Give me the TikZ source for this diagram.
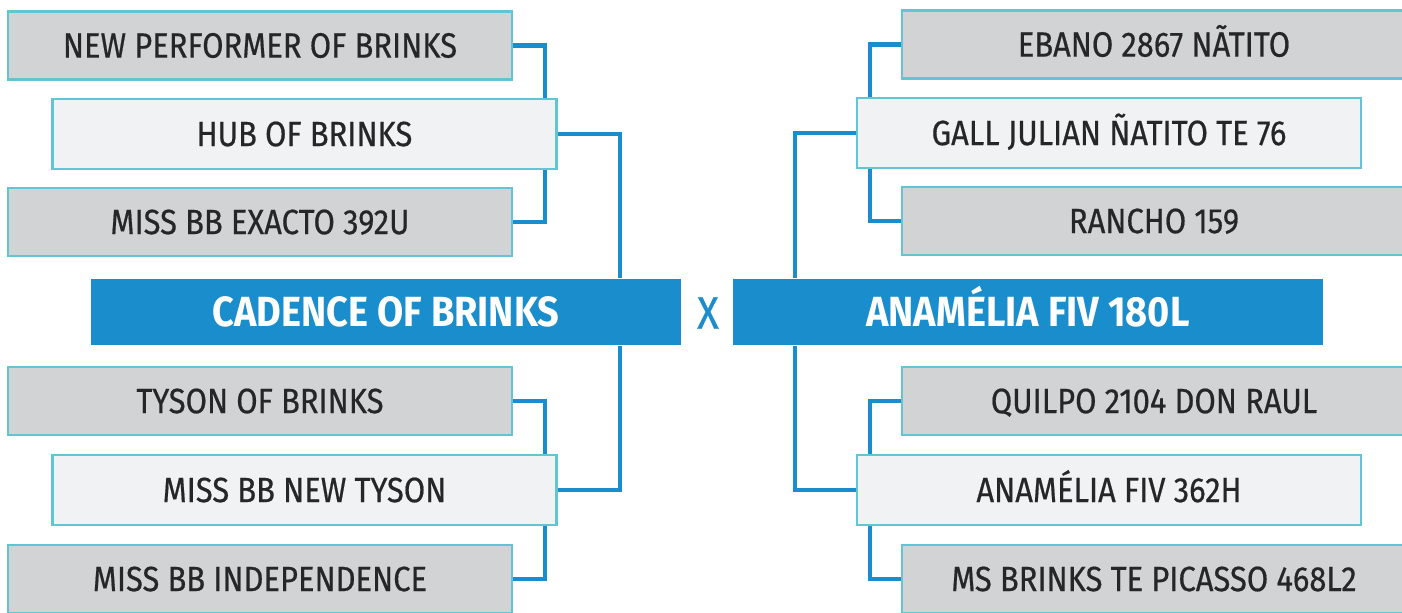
\documentclass[tikz,border=0pt]{standalone}
\usepackage{fontspec}
\setmainfont{Fira Sans}[FakeStretch=0.88,
  UprightFeatures={FakeBold=0.5},BoldFeatures={FakeStretch=0.9}]
\usepackage{tikz}
\usetikzlibrary{positioning}
\definecolor{pedblue}{HTML}{1A8DCC}
\definecolor{pedgrey}{HTML}{D1D3D5}
\definecolor{pedlight}{HTML}{F0F2F4}
\definecolor{pedframe}{HTML}{62C5D3}

\begin{document}
\begin{tikzpicture}[
    x=0.02cm,y=-0.02cm,
    font=\fontsize{20}{23}\selectfont,
    grand/.style={draw=pedframe,line width=1.3pt,fill=pedgrey,
      minimum width=10.08cm,minimum height=1.36cm,inner sep=0pt,
      text height=0.485cm,text depth=0pt,text=black!85},
    parent/.style={grand,fill=pedlight,minimum height=1.4cm},
    animal/.style={fill=pedblue,minimum width=11.8cm,minimum height=1.34cm,
      inner sep=0pt,text height=0.58cm,text depth=0pt,text=white,
      font=\bfseries\fontsize{24}{28}\selectfont},
    link/.style={draw=pedblue,line width=2.3pt},
  ]
    \useasboundingbox (0,0) rectangle (1402,612);

    % sire side
    \node[animal] (sire) at (386,312) {CADENCE OF BRINKS};
    \node[parent] (ss) at (304.5,134) {HUB OF BRINKS};
    \node[grand] (sss) at (260,45.5) {NEW PERFORMER OF BRINKS};
    \node[grand] (ssd) at (260,222) {MISS BB EXACTO 392U};
    \node[parent] (sd) at (304.5,490) {MISS BB NEW TYSON};
    \node[grand] (sds) at (260,401) {TYSON OF BRINKS};
    \node[grand] (sdd) at (260,579) {MISS BB INDEPENDENCE};

    \draw[link] (sss.east) -| ([xshift=-0.26cm]ss.north east);
    \draw[link] (ssd.east) -| ([xshift=-0.26cm]ss.south east);
    \draw[link] (ss.east) -| ([xshift=-1.22cm]sire.north east);
    \draw[link] ([xshift=-1.22cm]sire.south east) |- (sd.east);
    \draw[link] (sds.east) -| ([xshift=-0.26cm]sd.north east);
    \draw[link] (sdd.east) -| ([xshift=-0.26cm]sd.south east);

    \node[text=pedblue,font=\fontsize{26}{30}\selectfont] (cross) at (708,313) {X};

    % dam side
    \node[animal] (dam) at (1028,312) {ANAMÉLIA FIV 180L};
    \node[parent] (ds) at (1109,133) {GALL JULIAN ÑATITO TE 76};
    \node[grand] (dss) at (1154,44.5) {EBANO 2867 NÃTITO};
    \node[grand] (dsd) at (1154,221) {RANCHO 159};
    \node[parent] (dd) at (1109,490) {ANAMÉLIA FIV 362H};
    \node[grand] (dds) at (1154,401) {QUILPO 2104 DON RAUL};
    \node[grand] (ddd) at (1154,579) {MS BRINKS TE PICASSO 468L2};

    \draw[link] (dss.west) -| ([xshift=0.28cm]ds.north west);
    \draw[link] (dsd.west) -| ([xshift=0.28cm]ds.south west);
    \draw[link] (ds.west) -| ([xshift=1.24cm]dam.north west);
    \draw[link] ([xshift=1.24cm]dam.south west) |- (dd.west);
    \draw[link] (dds.west) -| ([xshift=0.28cm]dd.north west);
    \draw[link] (ddd.west) -| ([xshift=0.28cm]dd.south west);
  \end{tikzpicture}
\end{document}
